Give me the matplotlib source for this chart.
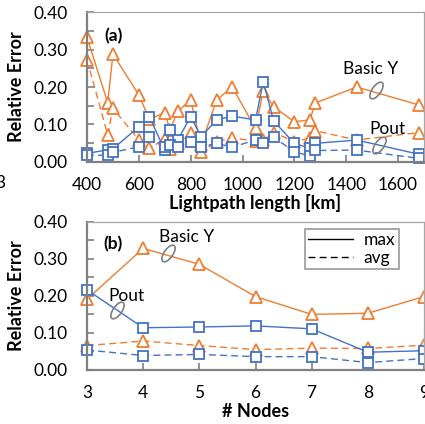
import matplotlib
matplotlib.use("Agg")
import matplotlib.pyplot as plt
from matplotlib.markers import MarkerStyle
from matplotlib.transforms import Affine2D
from matplotlib.lines import Line2D

plt.rcParams['font.family'] = ['Lato', 'DejaVu Sans']

ORANGE = '#ED7D31'
BLUE = '#4472C4'

# panel (a): relative error vs lightpath length
length_km = [400, 480, 500, 600, 640, 700, 720, 750, 800, 840,
             900, 960, 1050, 1080, 1120, 1200, 1260, 1280, 1440, 1680]
basic_y_max = [0.333, 0.158, 0.288, 0.179, 0.114, 0.131, 0.085, 0.135, 0.165, 0.045,
               0.165, 0.200, 0.089, 0.190, 0.147, 0.107, 0.112, 0.157, 0.200, 0.152]
basic_y_avg = [0.273, 0.072, 0.143, 0.058, 0.036, 0.060, 0.033, 0.051, 0.076, 0.027,
               0.054, 0.063, 0.056, 0.058, 0.078, 0.054, 0.063, 0.083, 0.058, 0.078]
pout_max = [0.022, 0.032, 0.034, 0.094, 0.121, 0.031, 0.085, 0.058, 0.121, 0.067,
            0.112, 0.122, 0.112, 0.214, 0.109, 0.049, 0.036, 0.049, 0.058, 0.020]
pout_avg = [0.018, 0.017, 0.025, 0.040, 0.067, 0.040, 0.045, 0.039, 0.054, 0.040,
            0.049, 0.039, 0.058, 0.049, 0.065, 0.027, 0.015, 0.030, 0.031, 0.009]

# panel (b): relative error vs number of nodes
nodes = [3, 4, 5, 6, 7, 8, 9]
basic_y_max_n = [0.191, 0.328, 0.285, 0.198, 0.150, 0.153, 0.198]
basic_y_avg_n = [0.066, 0.078, 0.066, 0.055, 0.059, 0.058, 0.067]
pout_max_n = [0.216, 0.114, 0.116, 0.119, 0.111, 0.048, 0.052]
pout_avg_n = [0.054, 0.039, 0.042, 0.036, 0.036, 0.020, 0.031]

FS = 12.5

fig = plt.figure(figsize=(4.25, 4.24), dpi=100)
ax_a = fig.add_axes([87 / 425, 1 - 161.7 / 424, 337 / 425, 149.4 / 424])
ax_b = fig.add_axes([87 / 425, 1 - 370 / 424, 337 / 425, 148.3 / 424])

ellipse = MarkerStyle('o', fillstyle='none',
                      transform=Affine2D().scale(0.45, 1.0).rotate_deg(-35))


def draw(ax, x, series):
    for y, color, marker, ms, ls in series:
        ax.plot(x, y, color=color, linestyle=ls, linewidth=1.0,
                marker=marker, markersize=ms, markerfacecolor='white',
                markeredgecolor=color, markeredgewidth=1.3, clip_on=False)


def style(ax):
    ax.set_ylim(0, 0.4)
    ax.set_yticks([0, 0.1, 0.2, 0.3, 0.4])
    ax.set_yticks([0.05, 0.15, 0.25, 0.35], minor=True)
    ax.set_yticklabels(['0.00', '0.10', '0.20', '0.30', '0.40'])
    ax.tick_params(axis='both', which='both', direction='in', colors='#808080',
                   labelcolor='black', labelsize=FS, width=1.2)
    ax.tick_params(axis='y', which='major', length=5, pad=14)
    ax.tick_params(axis='y', which='minor', length=5)
    ax.tick_params(axis='x', which='major', length=5, pad=11)
    for side in ('left', 'bottom'):
        ax.spines[side].set_color('#808080')
        ax.spines[side].set_linewidth(1.6)
    for side in ('top', 'right'):
        ax.spines[side].set_color('#a6a6a6')
        ax.spines[side].set_linewidth(0.9)
    ax.set_ylabel('Relative Error', fontsize=FS + 0.5, fontweight='bold', labelpad=6)


draw(ax_a, length_km, [
    (basic_y_max, ORANGE, '^', 9, '-'),
    (basic_y_avg, ORANGE, '^', 9, (0, (5, 3))),
    (pout_max, BLUE, 's', 7, '-'),
    (pout_avg, BLUE, 's', 7, (0, (5, 3))),
])
style(ax_a)
ax_a.set_xlim(400, 1700)
ax_a.set_xticks([400, 600, 800, 1000, 1200, 1400, 1600])
ax_a.set_xlabel('Lightpath length [km]', fontsize=FS + 0.5, fontweight='bold', labelpad=1)
ax_a.text(501, 0.335, '(a)', fontsize=FS, fontweight='bold', ha='center', va='center')
ax_a.text(1495, 0.248, 'Basic Y', fontsize=FS, ha='center', va='center')
ax_a.plot([1514], [0.192], marker=ellipse, markersize=14, color='#7f7f7f', mew=1.2)
ax_a.text(1560, 0.087, 'Pout', fontsize=FS, ha='center', va='center')
ax_a.plot([1527], [0.045], marker=ellipse, markersize=14, color='#7f7f7f', mew=1.2)

draw(ax_b, nodes, [
    (basic_y_max_n, ORANGE, '^', 9, '-'),
    (basic_y_avg_n, ORANGE, '^', 9, (0, (5, 3))),
    (pout_max_n, BLUE, 's', 7, '-'),
    (pout_avg_n, BLUE, 's', 7, (0, (5, 3))),
])
style(ax_b)
ax_b.set_xlim(3, 9)
ax_b.set_xticks(nodes)
ax_b.set_xlabel('# Nodes', fontsize=FS + 0.5, fontweight='bold', labelpad=1)
ax_b.text(3.46, 0.34, '(b)', fontsize=FS, fontweight='bold', ha='center', va='center')
ax_b.text(4.77, 0.36, 'Basic Y', fontsize=FS, ha='center', va='center')
ax_b.plot([4.45], [0.315], marker=ellipse, markersize=14, color='#7f7f7f', mew=1.2)
ax_b.text(3.70, 0.20, 'Pout', fontsize=FS, ha='center', va='center')
ax_b.plot([3.53], [0.162], marker=ellipse, markersize=14, color='#7f7f7f', mew=1.2)

handles = [Line2D([], [], color='black', lw=1.0, ls='-'),
           Line2D([], [], color='black', lw=1.0, ls=(0, (5, 3)))]
leg = ax_b.legend(handles, ['max', 'avg'], loc='upper right',
                  bbox_to_anchor=(0.925, 0.952), fontsize=FS, frameon=True,
                  fancybox=False, handlelength=2.6, handletextpad=0.6,
                  borderpad=0.2, labelspacing=0.1, borderaxespad=0)
leg.get_frame().set_edgecolor('#808080')
leg.get_frame().set_linewidth(1.2)

# partial label of neighbouring panel at the left edge
fig.text(-0.012, 1 - 183 / 424, '3', fontsize=FS, va='center', ha='left')

fig.savefig('out.png', dpi=100)
